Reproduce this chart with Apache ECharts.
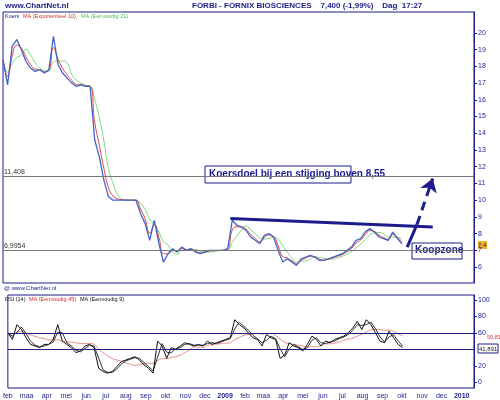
<!DOCTYPE html>
<html>
<head>
<meta charset="utf-8">
<script src="https://cdn.jsdelivr.net/npm/echarts@6/dist/echarts.min.js"></script>
<style>html,body{margin:0;padding:0;background:#fff}#c{width:500px;height:400px}</style>
</head>
<body>
<div id="c"></div>
<script>
// weekly closes, starting 2008-02-01
var startDate = '2008-02-01';
var koers = [18.4,16.9,19.2,19.6,19.0,18.3,17.9,17.7,17.8,17.6,17.8,19.8,18.1,17.6,17.3,17.0,16.8,16.9,16.8,16.8,
  13.6,12.6,11.2,10.2,10.0,10.0,10.0,10.0,10.0,10.0,9.2,8.6,7.6,8.8,7.4,6.3,6.8,7.1,6.9,7.2,
  7.0,7.1,6.9,6.8,6.9,7.0,7.0,7.0,7.0,7.1,8.8,8.5,8.4,8.2,7.8,7.6,7.4,7.9,8.0,7.8,
  7.0,6.3,6.5,6.3,6.1,6.5,6.6,6.7,6.6,6.4,6.4,6.5,6.6,6.7,6.8,7.0,7.2,7.6,7.7,8.1,
  8.3,8.1,7.8,7.7,7.6,8.1,7.7,7.4];
var rsi = [60,52,70,64,54,46,44,42,46,46,52,70,50,46,42,36,38,44,46,42,
  17,13,11,13,19,25,27,29,31,27,21,17,11,50,44,29,42,40,44,48,
  46,44,46,44,50,46,48,50,52,54,76,70,66,60,54,52,44,58,54,52,
  29,33,48,44,42,38,46,56,52,44,50,48,52,54,56,60,66,74,64,76,
  70,60,50,48,62,54,46,42];
var priceTicks = [6,7,8,9,10,11,12,13,14,15,16,17,18,19,20];
var rsiTicks = [0,20,60,80,100];
var maanden = ['jan','feb','maa','apr','mei','jun','jul','aug','sep','okt','nov','dec'];
var hLines = [11.408, 6.9954];
var hLabels = ['11,408', '6,9954'];
var rsiLines = [60, 40];
var trend = [['2009-01-13', 8.9], ['2009-11-18', 8.4]];
var pijlVast = [['2009-10-10', 7.2], ['2009-10-25', 8.55]];
var pijlStip = [['2009-10-25', 8.55], ['2009-11-18', 11.3]];

var DAY = 86400000;
var t0 = new Date(startDate + 'T00:00:00Z').getTime();
var dates = koers.map(function (v, i) { return t0 + i * 7 * DAY; });

function ema(arr, n) {
  var k = 2 / (n + 1), out = [], prev = arr[0];
  arr.forEach(function (v) { prev = v * k + prev * (1 - k); out.push(+prev.toFixed(3)); });
  return out;
}
function sma(arr, n) {
  return arr.map(function (v, i) {
    var s = 0, c = 0;
    for (var j = Math.max(0, i - n + 1); j <= i; j++) { s += arr[j]; c++; }
    return +(s / c).toFixed(3);
  });
}
function pair(arr) { return arr.map(function (v, i) { return [dates[i], v]; }); }

var navy = '#1c1c8c';
var xMin = '2008-02-01', xMax = '2010-01-20';
var chart = echarts.init(document.getElementById('c'));
chart.setOption({
  animation: false,
  backgroundColor: '#fff',
  textStyle: { fontFamily: 'Arial, Liberation Sans, sans-serif' },
  grid: [
    { left: 3, right: 26, top: 12, height: 271, show: true, borderColor: navy, borderWidth: 1 },
    { left: 3, right: 26, top: 295, height: 93, show: true, borderColor: navy, borderWidth: 1 }
  ],
  xAxis: [
    { type: 'time', gridIndex: 0, min: xMin, max: xMax, axisLabel: { show: false },
      axisTick: { show: false }, axisLine: { show: false }, splitLine: { show: false } },
    { type: 'time', gridIndex: 1, min: xMin, max: xMax, maxInterval: 31 * DAY, minInterval: 28 * DAY,
      axisLine: { show: false }, axisTick: { show: false }, splitLine: { show: false },
      axisLabel: { fontSize: 7, color: navy, margin: 5, showMinLabel: false,
        formatter: function (v) {
          var d = new Date(v);
          return d.getUTCMonth() === 0 ? '{y|' + d.getUTCFullYear() + '}' : maanden[d.getUTCMonth()];
        },
        rich: { y: { fontSize: 7, fontWeight: 'bold', color: navy } } } }
  ],
  yAxis: [
    { type: 'value', gridIndex: 0, position: 'right', min: 5.05, max: 21.25,
      axisLine: { show: true, lineStyle: { color: navy } },
      axisTick: { show: true, length: 3, lineStyle: { color: navy }, customValues: priceTicks },
      splitLine: { show: false },
      axisLabel: { fontSize: 7, color: navy, margin: 4, customValues: priceTicks } },
    { type: 'value', gridIndex: 1, position: 'right', min: -7, max: 106,
      axisLine: { show: true, lineStyle: { color: navy } },
      axisTick: { show: true, length: 3, lineStyle: { color: navy }, customValues: rsiTicks },
      splitLine: { show: false },
      axisLabel: { fontSize: 7, color: navy, margin: 4, customValues: rsiTicks } }
  ],
  series: [
    { type: 'line', xAxisIndex: 0, yAxisIndex: 0, data: pair(sma(koers, 4)), symbol: 'none',
      lineStyle: { color: '#7ed77e', width: 1 }, smooth: true },
    { type: 'line', xAxisIndex: 0, yAxisIndex: 0, data: pair(ema(koers, 2)), symbol: 'none',
      lineStyle: { color: '#e04545', width: 1 }, smooth: true },
    { type: 'line', xAxisIndex: 0, yAxisIndex: 0, data: pair(koers), symbol: 'none',
      lineStyle: { color: '#3f63c8', width: 1.3 },
      markLine: { silent: true, symbol: 'none',
        label: { show: true, position: 'insideStartTop', fontSize: 7, color: '#333', distance: 1, formatter: '{b}' },
        lineStyle: { color: '#777', type: 'solid', width: 1 },
        data: hLines.map(function (v, i) { return { yAxis: v, name: hLabels[i] }; }) } },
    { type: 'line', xAxisIndex: 0, yAxisIndex: 0, data: [], symbol: 'none',
      markLine: { silent: true, symbol: 'none', label: { show: false },
        lineStyle: { color: navy, width: 3, type: 'solid' },
        data: [
          [{ coord: trend[0] }, { coord: trend[1] }],
          [{ coord: pijlVast[0] }, { coord: pijlVast[1] }],
          [{ coord: pijlStip[0], symbol: 'none', lineStyle: { type: [9, 6], color: navy, width: 3 } },
           { coord: pijlStip[1], symbol: 'arrow', symbolSize: 13 }]
        ] } },
    { type: 'line', xAxisIndex: 1, yAxisIndex: 1, data: pair(sma(rsi, 9)), symbol: 'none',
      lineStyle: { color: '#e08a80', width: 1 }, smooth: true },
    { type: 'line', xAxisIndex: 1, yAxisIndex: 1, data: pair(sma(rsi, 2)), symbol: 'none',
      lineStyle: { color: '#333', width: 1 } },
    { type: 'line', xAxisIndex: 1, yAxisIndex: 1, data: pair(rsi), symbol: 'none',
      lineStyle: { color: '#111', width: 1 },
      markLine: { silent: true, symbol: 'none', label: { show: false },
        lineStyle: { color: navy, type: 'solid', width: 1 },
        data: rsiLines.map(function (v) { return { yAxis: v }; }) } }
  ],
  graphic: [
    { type: 'text', left: 5, top: 2, style: { text: 'www.ChartNet.nl', font: 'bold 8px Arial', fill: navy } },
    { type: 'text', left: 192, top: 2, style: { text: 'FORBI - FORNIX BIOSCIENCES    7,400 (-1,99%)    Dag  17:27', font: 'bold 8px Arial', fill: navy } },
    { type: 'text', left: 5, top: 13, style: { text: 'Koers', font: '5.5px Arial', fill: navy } },
    { type: 'text', left: 23, top: 13, style: { text: 'MA (Exponentieel 10)', font: '5.5px Arial', fill: '#d03030' } },
    { type: 'text', left: 81, top: 13, style: { text: 'MA (Eenvoudig 21)', font: '5.5px Arial', fill: '#50c050' } },
    { type: 'text', left: 4, top: 285, style: { text: '@ www.ChartNet.nl', font: '6px Arial', fill: navy } },
    { type: 'text', left: 5, top: 296, style: { text: 'RSI (14)', font: '5.5px Arial', fill: '#111' } },
    { type: 'text', left: 29, top: 296, style: { text: 'MA (Eenvoudig 45)', font: '5.5px Arial', fill: '#d03030' } },
    { type: 'text', left: 80, top: 296, style: { text: 'MA (Eenvoudig 9)', font: '5.5px Arial', fill: '#111' } },
    { type: 'rect', shape: { x: 205, y: 166, width: 146, height: 17 }, style: { fill: '#fff', stroke: navy, lineWidth: 1 } },
    { type: 'text', left: 209, top: 169, style: { text: 'Koersdoel bij een stijging boven 8,55', font: 'bold 10px Arial', fill: navy } },
    { type: 'rect', shape: { x: 412, y: 243, width: 50, height: 16 }, style: { fill: '#fff', stroke: navy, lineWidth: 1 } },
    { type: 'text', left: 415, top: 245, style: { text: 'Koopzone', font: 'bold 10px Arial', fill: navy } },
    { type: 'rect', shape: { x: 478, y: 241, width: 9, height: 8 }, style: { fill: '#f0b030' } },
    { type: 'text', left: 478, top: 242, style: { text: '7,4', font: '6px Arial', fill: '#222' } },
    { type: 'rect', shape: { x: 478, y: 344, width: 20, height: 9 }, style: { fill: '#fff', stroke: navy, lineWidth: 1 } },
    { type: 'text', left: 479, top: 346, style: { text: '41,891', font: '6px Arial', fill: '#111' } },
    { type: 'text', left: 487, top: 334, style: { text: '50,817', font: '5.5px Arial', fill: '#d03030' } }
  ]
});
</script>
</body>
</html>
